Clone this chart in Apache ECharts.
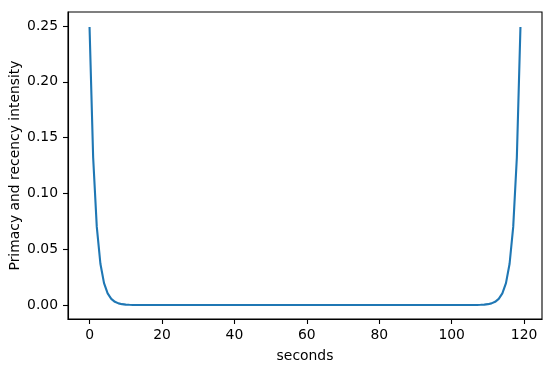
<!DOCTYPE html>
<html>
<head>
<meta charset="utf-8">
<script src="https://cdn.jsdelivr.net/npm/echarts@6/dist/echarts.min.js"></script>
<style>
html,body{margin:0;padding:0;background:#fff;}
#chart{width:550px;height:375px;}
</style>
</head>
<body>
<div id="chart"></div>
<script>
// seconds 0..119
var seconds = [];
for (var i = 0; i < 120; i++) seconds.push(i);

// Primacy and recency intensity
var intensity = [
  0.249, 0.132, 0.070, 0.037, 0.0196, 0.0104, 0.0055, 0.0029, 0.0015, 0.0008,
  0.0004, 0.0002, 0.0001, 0, 0, 0, 0, 0, 0, 0,
  0, 0, 0, 0, 0, 0, 0, 0, 0, 0,
  0, 0, 0, 0, 0, 0, 0, 0, 0, 0,
  0, 0, 0, 0, 0, 0, 0, 0, 0, 0,
  0, 0, 0, 0, 0, 0, 0, 0, 0, 0,
  0, 0, 0, 0, 0, 0, 0, 0, 0, 0,
  0, 0, 0, 0, 0, 0, 0, 0, 0, 0,
  0, 0, 0, 0, 0, 0, 0, 0, 0, 0,
  0, 0, 0, 0, 0, 0, 0, 0, 0, 0,
  0, 0, 0, 0, 0, 0, 0, 0.0001, 0.0002, 0.0004,
  0.0008, 0.0015, 0.0029, 0.0055, 0.0104, 0.0196, 0.037, 0.070, 0.132, 0.249
];

var xTicks = [0, 20, 40, 60, 80, 100, 120];
var yTicks = [0, 0.05, 0.10, 0.15, 0.20, 0.25];

var xLabel = 'seconds';
var yLabel = 'Primacy and recency intensity';

var data = seconds.map(function (s, i) { return [s, intensity[i]]; });

var chart = echarts.init(document.getElementById('chart'), null, {renderer: 'canvas'});
var font = 'DejaVu Sans';
var fs = 13.9;
chart.setOption({
  animation: false,
  grid: {left: 68, right: 8, top: 12, bottom: 56, containLabel: false, outerBoundsMode: 'none',
    show: true, borderColor: '#000', borderWidth: 1.1, backgroundColor: 'transparent'},
  xAxis: {
    type: 'value', min: -5.95, max: 124.95,
    name: xLabel, nameLocation: 'middle', nameGap: 30, nameMoveOverlap: false,
    nameTextStyle: {color: '#000', fontSize: fs, fontFamily: font},
    axisLine: {show: true, onZero: false, lineStyle: {color: '#000', width: 1.1}},
    axisTick: {show: true, length: 5, inside: false, customValues: xTicks, lineStyle: {color: '#000', width: 1.1}},
    axisLabel: {show: true, customValues: xTicks, color: '#000', fontSize: fs, fontFamily: font, margin: 9},
    splitLine: {show: false}
  },
  yAxis: {
    type: 'value', min: -0.0125, max: 0.2625,
    name: yLabel, nameLocation: 'middle', nameGap: 46, nameRotate: 90, nameMoveOverlap: false,
    nameTextStyle: {color: '#000', fontSize: fs, fontFamily: font},
    axisLine: {show: true, onZero: false, lineStyle: {color: '#000', width: 1.1}},
    axisTick: {show: true, length: 5, inside: false, customValues: yTicks, lineStyle: {color: '#000', width: 1.1}},
    axisLabel: {show: true, customValues: yTicks, color: '#000', fontSize: fs, fontFamily: font, margin: 10,
      formatter: function (v) { return v.toFixed(2); }},
    splitLine: {show: false}
  },
  series: [{
    type: 'line', data: data, showSymbol: false, symbol: 'none',
    lineStyle: {color: '#1f77b4', width: 2.1}, clip: true
  }]
});
</script>
</body>
</html>
